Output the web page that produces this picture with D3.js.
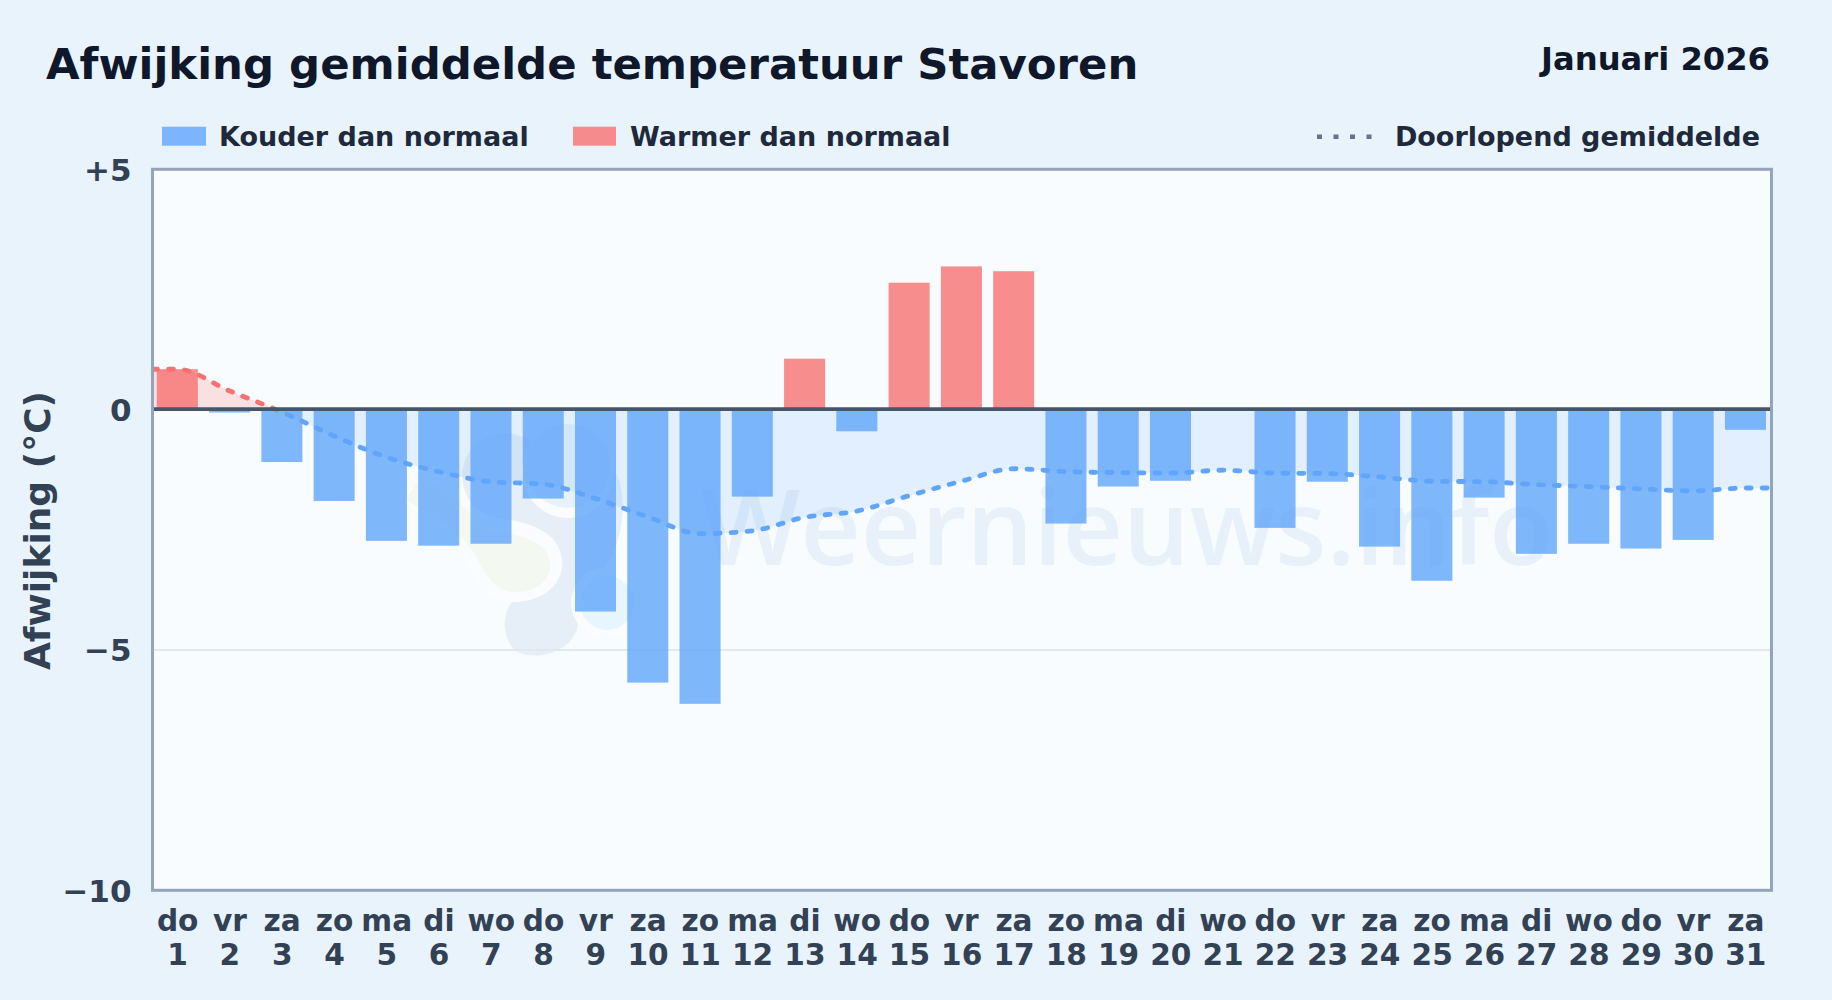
<!DOCTYPE html>
<html lang="nl">
<head>
<meta charset="utf-8">
<title>Afwijking gemiddelde temperatuur Stavoren</title>
<script src="https://cdn.jsdelivr.net/npm/d3@7/dist/d3.min.js"></script>
<style>
html,body{margin:0;padding:0;background:#e8f3fc;}
svg{display:block;}
text{font-family:"DejaVu Sans",sans-serif;font-weight:700;}
</style>
</head>
<body>
<svg id="chart" width="1832" height="1000"></svg>
<script>
const titleText = "Afwijking gemiddelde temperatuur Stavoren";
const periodText = "Januari 2026";
const yAxisTitle = "Afwijking (°C)";
const legendCold = "Kouder dan normaal";
const legendWarm = "Warmer dan normaal";
const legendMean = "Doorlopend gemiddelde";
const watermarkText = "Weernieuws.info";
const dayNames = ["do","vr","za","zo","ma","di","wo","do","vr","za","zo","ma","di","wo","do","vr","za","zo","ma","di","wo","do","vr","za","zo","ma","di","wo","do","vr","za"];
const dayNumbers = [1,2,3,4,5,6,7,8,9,10,11,12,13,14,15,16,17,18,19,20,21,22,23,24,25,26,27,28,29,30,31];
const deviation = [0.84,-0.06,-1.09,-1.9,-2.73,-2.83,-2.79,-1.85,-4.2,-5.68,-6.12,-1.81,1.06,-0.45,2.64,2.98,2.88,-2.37,-1.6,-1.48,0,-2.46,-1.5,-2.85,-3.56,-1.83,-3.0,-2.79,-2.89,-2.71,-0.42];
const runningMean = [0.84,0.39,-0.05,-0.55,-0.99,-1.29,-1.5,-1.55,-1.85,-2.23,-2.58,-2.52,-2.24,-2.11,-1.79,-1.49,-1.23,-1.29,-1.31,-1.32,-1.26,-1.32,-1.33,-1.4,-1.49,-1.5,-1.56,-1.6,-1.65,-1.69,-1.63];
const yTicks = [5,0,-5,-10];
const yTickLabels = ["+5","0","\u22125","\u221210"];

const plot = {left:152.5, right:1771.5, top:169.3, bottom:890.3};
const svg = d3.select("#chart");

const x = d3.scaleBand().domain(dayNumbers).range([151.2,1771.6]).paddingInner(0.215).paddingOuter(0.1075);
const y = d3.scaleLinear().domain([5,-10]).range([plot.top,plot.bottom]);
const cx = d => x(d)+x.bandwidth()/2;

svg.append("rect").attr("width",1832).attr("height",1000).attr("fill","#e8f3fc");
svg.append("rect").attr("x",plot.left).attr("y",plot.top)
  .attr("width",plot.right-plot.left).attr("height",plot.bottom-plot.top).attr("fill","#f8fcff");

const defs = svg.append("defs");
defs.append("clipPath").attr("id","above").append("rect")
  .attr("x",plot.left).attr("y",plot.top).attr("width",plot.right-plot.left).attr("height",y(0)-plot.top);
defs.append("clipPath").attr("id","below").append("rect")
  .attr("x",plot.left).attr("y",y(0)).attr("width",plot.right-plot.left).attr("height",plot.bottom-y(0));
defs.append("clipPath").attr("id","plotClip").append("rect")
  .attr("x",plot.left).attr("y",plot.top).attr("width",plot.right-plot.left).attr("height",plot.bottom-plot.top);

// watermark logo and text
const wm = svg.append("g").attr("clip-path","url(#plotClip)");
const grey = "#e6eff7";
wm.append("circle").attr("cx",505).attr("cy",478).attr("r",49).attr("fill","#fafcff");
wm.append("circle").attr("cx",505).attr("cy",476).attr("r",43).attr("fill",grey);
wm.append("path").attr("fill",grey)
  .attr("d","M515,490 C535,452 590,450 618,476 C628,505 622,550 600,572 C586,586 578,604 578,625 C574,650 540,662 518,652 C502,642 500,614 514,600 C500,565 496,520 515,490 Z");
wm.append("path").attr("fill","#fafcff")
  .attr("d","M425,472 C450,482 470,500 478,515 C500,520 530,518 552,538 C572,560 562,592 530,600 C495,608 480,590 470,568 C455,540 425,520 400,500 Z");
wm.append("path").attr("fill","#f3f9f1")
  .attr("d","M420,478 C450,490 470,510 482,530 C505,534 530,534 545,550 C558,570 545,590 520,592 C495,594 486,576 476,556 C462,532 432,515 405,500 Z");
wm.append("circle").attr("cx",568).attr("cy",472).attr("r",46).attr("fill","#fafcff");
wm.append("circle").attr("cx",568).attr("cy",466).attr("r",42).attr("fill","#e8f2fb");
wm.append("circle").attr("cx",607).attr("cy",603).attr("r",36).attr("fill","#fafcff");
wm.append("circle").attr("cx",607).attr("cy",603).attr("r",27).attr("fill","#e7f5ff");
wm.append("text").attr("x",701).attr("y",565).attr("fill","#e8f1f9")
  .style("font-family","'Open Sans',sans-serif").style("font-weight",600)
  .style("font-size","105px").text(watermarkText);

// grid and area
svg.append("line").attr("x1",plot.left).attr("x2",plot.right).attr("y1",y(-5)).attr("y2",y(-5))
  .attr("stroke","#e2e8f0").attr("stroke-width",2);

const meanPoints = [{px:plot.left,v:runningMean[0]}]
  .concat(runningMean.map((v,i)=>({px:cx(dayNumbers[i]),v})))
  .concat([{px:plot.right,v:runningMean[runningMean.length-1]}]);
const area = d3.area().x(d=>d.px).y0(y(0)).y1(d=>y(d.v)).curve(d3.curveMonotoneX);
const line = d3.line().x(d=>d.px).y(d=>y(d.v)).curve(d3.curveMonotoneX);
svg.append("path").datum(meanPoints).attr("d",area).attr("fill","#f87171").attr("fill-opacity",0.2).attr("clip-path","url(#above)");
svg.append("path").datum(meanPoints).attr("d",area).attr("fill","#60a5fa").attr("fill-opacity",0.15).attr("clip-path","url(#below)");

// bars
svg.append("g").selectAll("rect").data(deviation).join("rect")
  .attr("x",(d,i)=>x(dayNumbers[i]))
  .attr("width",x.bandwidth())
  .attr("y",d=>Math.min(y(d),y(0)))
  .attr("height",d=>Math.abs(y(d)-y(0)))
  .attr("fill",d=>d>=0?"#f87171":"#60a5fa")
  .attr("fill-opacity",0.8);

// running mean line
[["above","#f87171"],["below","#60a5fa"]].forEach(([clip,color])=>{
  svg.append("path").datum(meanPoints).attr("d",line).attr("fill","none")
    .attr("stroke",color).attr("stroke-width",4.8).attr("stroke-linecap","round")
    .attr("stroke-dasharray","5 11").attr("clip-path",`url(#${clip})`);
});

// zero line + frame
svg.append("line").attr("x1",plot.left).attr("x2",plot.right).attr("y1",y(0)-0.5).attr("y2",y(0)-0.5)
  .attr("stroke","#475569").attr("stroke-width",3.6);
svg.append("rect").attr("x",plot.left).attr("y",plot.top)
  .attr("width",plot.right-plot.left).attr("height",plot.bottom-plot.top)
  .attr("fill","none").attr("stroke","#94a3b8").attr("stroke-width",3);

// axes
const yAxis = d3.axisLeft(y).tickValues(yTicks).tickSize(0).tickPadding(21)
  .tickFormat((d,i)=>yTickLabels[i]);
const gy = svg.append("g").attr("transform",`translate(${plot.left},0)`).call(yAxis);
gy.select(".domain").remove();
gy.selectAll("text").attr("fill","#334155").attr("dy",null).attr("y",10.9).style("font-size","31px");

const xAxis = d3.axisBottom(x).tickSize(0).tickPadding(0).tickFormat(()=> "");
const gx = svg.append("g").attr("transform",`translate(0.3,${plot.bottom})`).call(xAxis);
gx.select(".domain").remove();
gx.selectAll("text").attr("dy",null).attr("y",null).each(function(d,i){
  const t = d3.select(this).attr("fill","#334155").style("font-size","29.6px").attr("text-anchor","middle");
  t.append("tspan").attr("x",0).attr("y",40.7).text(dayNames[i]);
  t.append("tspan").attr("x",0).attr("y",74.7).text(dayNumbers[i]);
});

// titles
svg.append("text").attr("x",46).attr("y",79).attr("fill","#0f172a").style("font-size","43.4px").text(titleText);
svg.append("text").attr("x",1770).attr("y",69.5).attr("text-anchor","end").attr("fill","#0f172a").style("font-size","32.2px").text(periodText);
svg.append("text").attr("transform",`translate(50,530.5) rotate(-90)`).attr("text-anchor","middle")
  .attr("fill","#334155").style("font-size","36px").text(yAxisTitle);

// legend
const lg = svg.append("g");
const lf = "27px";
lg.append("rect").attr("x",162).attr("y",126.7).attr("width",44).attr("height",19).attr("fill","#60a5fa").attr("fill-opacity",0.8);
lg.append("text").attr("x",219).attr("y",145.6).attr("fill","#1e293b").style("font-size",lf).text(legendCold);
lg.append("rect").attr("x",573).attr("y",126.7).attr("width",43).attr("height",19).attr("fill","#f87171").attr("fill-opacity",0.8);
lg.append("text").attr("x",630).attr("y",145.6).attr("fill","#1e293b").style("font-size",lf).text(legendWarm);
lg.append("line").attr("x1",1317).attr("x2",1374).attr("y1",136.7).attr("y2",136.7)
  .attr("stroke","#64748b").attr("stroke-width",4.5).attr("stroke-dasharray","5 11.5");
lg.append("text").attr("x",1760).attr("y",145.6).attr("text-anchor","end").attr("fill","#1e293b").style("font-size",lf).text(legendMean);
</script>
</body>
</html>
